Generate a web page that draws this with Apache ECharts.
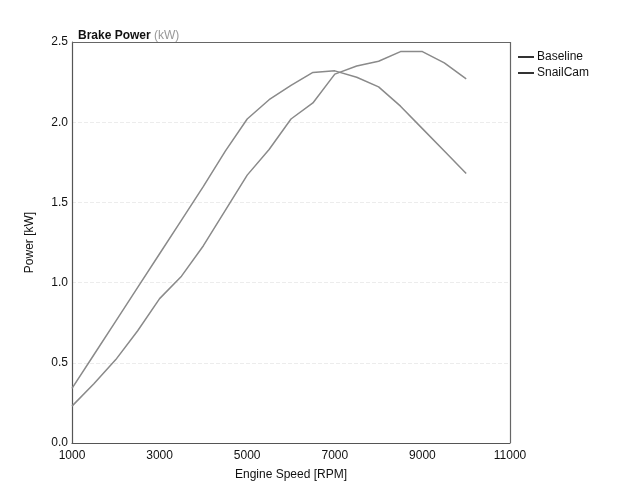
<!DOCTYPE html>
<html>
<head>
<meta charset="utf-8">
<script src="https://cdn.jsdelivr.net/npm/echarts@6/dist/echarts.min.js"></script>
<style>html,body{margin:0;padding:0;background:#fff}#c{width:634px;height:486px}</style>
</head>
<body>
<div id="c"></div>
<script>
const rpm = [1000,1500,2000,2500,3000,3500,4000,4500,5000,5500,6000,6500,7000,7500,8000,8500,9000,9500,10000];
const baseline = [0.34,0.55,0.76,0.97,1.18,1.39,1.60,1.82,2.02,2.14,2.23,2.31,2.32,2.28,2.22,2.10,1.96,1.82,1.68];
const snailCam = [0.23,0.37,0.52,0.70,0.90,1.04,1.23,1.45,1.67,1.83,2.02,2.12,2.30,2.35,2.38,2.44,2.44,2.37,2.27];
const yTicks = ['0.0','0.5','1.0','1.5','2.0','2.5'];
const xTicks = ['1000','3000','5000','7000','9000','11000'];

const chart = echarts.init(document.getElementById('c'), null, {renderer:'canvas'});
const font = 'Liberation Sans, Arial, sans-serif';
chart.setOption({
  animation:false,
  backgroundColor:'#fff',
  title:{
    text:'{a|Brake Power }{b|(kW)}',
    left:73, top:25,
    textStyle:{rich:{
      a:{fontFamily:font,fontSize:12,color:'#111',fontWeight:'bold'},
      b:{fontFamily:font,fontSize:12,color:'#999',fontWeight:'normal'}
    }}
  },
  legend:{
    orient:'vertical', left:513, top:46, itemGap:4,
    itemWidth:16, itemHeight:2, icon:'rect',
    itemStyle:{color:'#333'},
    textStyle:{fontFamily:font,fontSize:12,color:'#111',padding:[0,0,0,-2]},
    data:['Baseline','SnailCam']
  },
  grid:{left:72,right:124,top:42,bottom:41},
  xAxis:{
    type:'value',min:1000,max:11000,interval:2000,
    name:'Engine Speed [RPM]',nameLocation:'middle',nameGap:26,
    nameTextStyle:{fontFamily:font,fontSize:12,color:'#111'},
    axisLine:{show:true,lineStyle:{color:'#555',width:1.2}},
    axisTick:{show:false},
    axisLabel:{fontFamily:font,fontSize:12,color:'#111',margin:7,
      formatter:(v)=>xTicks.find(t=>+t===v)||''},
    splitLine:{show:false}
  },
  yAxis:{
    type:'value',min:0,max:2.5,interval:0.5,
    name:'Power [kW]',nameLocation:'middle',nameGap:36,nameRotate:90,
    nameTextStyle:{fontFamily:font,fontSize:12,color:'#111'},
    axisLine:{show:true,lineStyle:{color:'#555',width:1.2}},
    axisTick:{show:false},
    axisLabel:{fontFamily:font,fontSize:12,color:'#111',margin:4,
      formatter:(v)=>yTicks.find(t=>Math.abs(+t-v)<1e-6)||''},
    splitLine:{show:true,lineStyle:{color:'#ececec',type:'dashed',width:1}}
  },
  series:[
    {name:'Baseline',type:'line',showSymbol:false,
     data:rpm.map((r,i)=>[r,baseline[i]]),
     lineStyle:{color:'#8a8a8a',width:1.5},itemStyle:{color:'#8a8a8a'}},
    {name:'SnailCam',type:'line',showSymbol:false,
     data:rpm.map((r,i)=>[r,snailCam[i]]),
     lineStyle:{color:'#8a8a8a',width:1.5},itemStyle:{color:'#8a8a8a'}},
    {type:'line',silent:true,data:[],
     markLine:{silent:true,symbol:'none',label:{show:false},
       lineStyle:{color:'#666',width:1.2,type:'solid'},
       data:[[{coord:[1000,2.5]},{coord:[11000,2.5]}],[{coord:[11000,0]},{coord:[11000,2.5]}]]}}
  ]
});
</script>
</body>
</html>
